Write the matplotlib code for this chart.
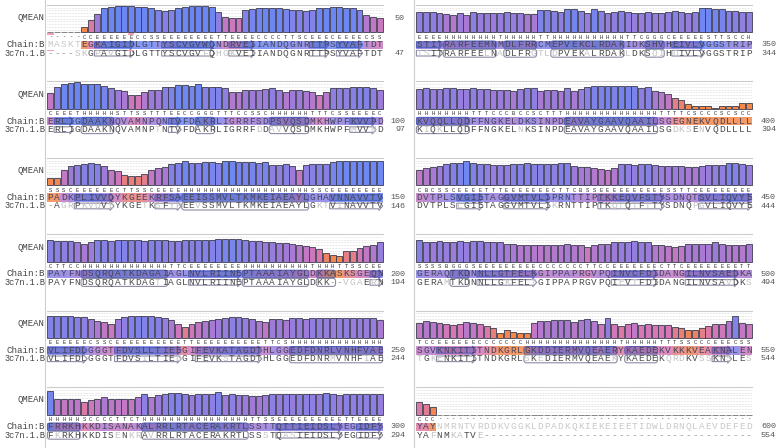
import matplotlib
matplotlib.use("Agg")
import numpy as np
import matplotlib.pyplot as plt
from matplotlib.patches import FancyBboxPatch, Polygon, Rectangle
from matplotlib.colors import LinearSegmentedColormap

# ---------------- data ----------------
target_end = [50, 100, 150, 200, 250, 300, 350, 400, 450, 500, 550, 600]
template_end = [47, 97, 146, 194, 244, 294, 344, 394, 444, 494, 544, 554]

target_seq = [
    "MASKTEGKAIGIDLGTTYSCVGVWQNDRVEIIANDQGNRTTPSYVAFTDT",
    "ERLIGDAAKNQVAMNPQNTVFDAKRLIGRRFSDPSVQSDMKHWPFKVVPD",
    "PADKPLIVVQYKGEEKRFSAEEISSMVLTKMKEIAEAYLGHAVNNAVVTV",
    "PAYFNDSQRQATKDAGAIAGLNVLRIINEPTAAAIAYGLDKKASKSGEQN",
    "VLIFDLGGGTFDVSLLTIEEGIFEVKATAGDTHLGGEDFDNRLVNHFVAE",
    "FRRKHKKDISANAKALRRLRTACERAKRTLSSTTQTTIEIDSLYEGIDFY",
    "STITRARFEEMNMDLFRRCMEPVEKCLRDAKIDKSHVHEIVLVGGSTRIP",
    "KVQQLLQDFFNGKELDKSINPDEAVAYGAAVQAAILSGEGNEKVQDLLLL",
    "DVTPLSVGIETAGGVMTVLIPRNTTIPTKKEQVFSTYSDNQTSVLIQVYE",
    "GERAQTKDNNLLGTFELKGIPPAPRGVPQINVCFDIDANGILNVSAEDKA",
    "SGVKNKITITNDKGRLGKDDIERMVQEAERYKAEDEKVKKKVEAKNALEN",
    "YAYNMRNTVRDDKVGGKLDPADKQKIEKEIEETIDWLDRNQLAEVDEFED",
]

template_seq = [
    "----SKGPAVGIDLGTTYSCVGVFQHGKVEIIANDQGNRTTPSYVAFTDT",
    "ERLIGDAAKNQVAMNPTNTVFDAKRLIGRRFDDAVVQSDMKHWPFMVVND",
    "-AGRPKVQVEYKGETKSFYPEEVSSMVLTKMKEIAEAYLGKTVINAVVTV",
    "PAYFNDSQRQATKDAGTIAGLNVLRIINEPTAAAIAYGLDKK--VGAERN",
    "VLIFDLGGGTFDVSILTIEDGIFEVKSTAGDTHLGGEDFDNRMVNHFIAE",
    "FKRKHKKDISENKRAVRRLRTACERAKRTLSSSTQASIEIDSLYEGIDFY",
    "TSITRARFEELNADLFRGTLDPVEKALRDAKLDKSQIHDIVLVGGSTRIP",
    "KIQKLLQDFFNGKELNKSINPDEAVAYGAAVQAAILSGDKSENVQDLLLL",
    "DVTPLSLGIETAGGVMTVLIKRNTTIPTKQTQTFTTYSDNQPGVLIQVYE",
    "GERAMTKDNNLLGKFELTGIPPAPRGVPQIEVTFDIDANGILNVSAVDKS",
    "TGKENKITITNDKGRLSKEDIERMVQEAEKYKAEDEKQRDKVSSKNSLES",
    "YAFNMKATVE----------------------------------------",
]

ss = [
    "-----CCEEEEEECCSSEEEEEEEETTEEEECCCCTTSCEEECEEEECSS",
    "CEEETHHHHHSTTSSTTTEECCGGGTTTCCSSCHHHHHHTTTCSSEEEEC",
    "SSSCEEEEEECTTSSCEEEE" + "H" * 19 + "SSC" + "E" * 8,
    "CTTCC" + "H" * 13 + "TTC" + "E" * 8 + "H" * 10 + "THHH" + "TTSSCEE",
    "EEEEEECSSCEEEEEEEEEETTEEEEEEEEEETTCS" + "H" * 14,
    "HHHHHSCCCCTTCT" + "H" * 16 + "TTSS" + "E" * 10 + "TTEEEE",
    "EEEE" + "H" * 8 + "T" + "H" * 5 + "TT" + "H" * 11 + "TTCGGGC" + "E" * 5 + "STTSCCH",
    "H" * 8 + "TTTCCCBCCSCTTT" + "H" * 14 + "TTTTCSCCCSCSCC",
    "CBCSSCEEEETTT" + "E" * 7 + "CTTCBSS" + "E" * 10 + "SSTTC" + "E" * 8,
    "SSSSBGGGS" + "E" * 9 + "C" * 7 + "TTCC" + "E" * 7 + "CTTC" + "E" * 8 + "TT",
    "TCC" + "E" * 6 + "C" * 7 + "H" * 14 + "T" + "H" * 5 + "TTTSSCCCEEECSS",
    "CCC" + "-" * 47,
]

q1 = [None] * 5 + [0.19, 0.44, 0.69, 0.88, 0.91, 0.96, 0.96, 0.95, 0.94, 0.91,
                   0.88, 0.81, 0.79, 0.81, 0.88, 0.92, 0.95, 0.96, 0.95, 0.91,
                   0.75, 0.56, 0.53, 0.53, 0.81, 0.84, 0.88, 0.90, 0.90, 0.88,
                   0.84, 0.81, 0.81, 0.78, 0.81, 0.88, 0.90, 0.91, 0.91, 0.90,
                   0.88, 0.81, 0.62, 0.56, 0.53]
q2 = [0.56, 0.81, 0.90, 0.94, 0.96, 0.90, 0.90, 0.90, 0.85, 0.75,
      0.69, 0.65, 0.52, 0.50, 0.62, 0.69, 0.69, 0.78, 0.81, 0.88,
      0.88, 0.84, 0.90, 0.78, 0.81, 0.81, 0.75, 0.62, 0.62, 0.69,
      0.69, 0.69, 0.71, 0.75, 0.69, 0.62, 0.69, 0.69, 0.65, 0.62,
      0.50, 0.60, 0.75, 0.75, 0.75, 0.78, 0.80, 0.80, 0.75, 0.69]
q3 = [0.25, 0.27, 0.56, 0.69, 0.75, 0.78, 0.80, 0.78, 0.69, 0.56,
      0.52, 0.37, 0.35, 0.35, 0.40, 0.56, 0.62, 0.65, 0.78, 0.81,
      0.88, 0.81, 0.81, 0.84, 0.84, 0.81, 0.88, 0.88, 0.85, 0.84,
      0.84, 0.81, 0.84, 0.75, 0.75, 0.78, 0.69, 0.56, 0.75, 0.78,
      0.78, 0.78, 0.84, 0.88, 0.88, 0.88, 0.88, 0.88, 0.88, 0.88]
q4 = [0.78, 0.76, 0.76, 0.74, 0.70, 0.66, 0.70, 0.80, 0.78, 0.76,
      0.80, 0.80, 0.78, 0.78, 0.76, 0.80, 0.78, 0.78, 0.76, 0.76,
      0.78, 0.78, 0.78, 0.80, 0.80, 0.81, 0.84, 0.84, 0.81, 0.78,
      0.76, 0.74, 0.70, 0.72, 0.69, 0.68, 0.65, 0.60, 0.56, 0.52,
      0.45, 0.30, 0.25, 0.20, 0.38, 0.38, 0.50, 0.56, 0.62, 0.72]
q5 = [0.80, 0.80, 0.80, 0.80, 0.78, 0.76, 0.70, 0.64, 0.57, 0.52,
      0.70, 0.76, 0.80, 0.82, 0.80, 0.80, 0.78, 0.72, 0.65, 0.52,
      0.40, 0.50, 0.57, 0.64, 0.66, 0.70, 0.72, 0.76, 0.76, 0.72,
      0.70, 0.64, 0.57, 0.70, 0.70, 0.66, 0.72, 0.72, 0.70, 0.74,
      0.74, 0.72, 0.72, 0.74, 0.74, 0.72, 0.72, 0.72, 0.72, 0.65]
q6 = [0.85, 0.58, 0.56, 0.58, 0.58, 0.45, 0.52, 0.58, 0.64, 0.58,
      0.58, 0.56, 0.56, 0.64, 0.76, 0.64, 0.70, 0.76, 0.80, 0.80,
      0.76, 0.70, 0.76, 0.76, 0.76, 0.82, 0.70, 0.76, 0.70, 0.70,
      0.68, 0.68, 0.70, 0.76, 0.73, 0.76, 0.73, 0.76, 0.76, 0.76,
      0.73, 0.80, 0.76, 0.70, 0.76, 0.76, 0.76, 0.76, 0.76, 0.73]
q7 = [0.75, 0.75, 0.75, 0.72, 0.66, 0.62, 0.70, 0.65, 0.75, 0.72,
      0.72, 0.70, 0.72, 0.75, 0.72, 0.72, 0.66, 0.66, 0.82, 0.82,
      0.78, 0.75, 0.85, 0.85, 0.78, 0.72, 0.85, 0.78, 0.72, 0.75,
      0.78, 0.75, 0.72, 0.72, 0.75, 0.72, 0.72, 0.75, 0.78, 0.75,
      0.72, 0.75, 0.88, 0.88, 0.85, 0.85, 0.78, 0.78, 0.75, 0.75]
q8 = [0.72, 0.75, 0.72, 0.72, 0.75, 0.75, 0.72, 0.72, 0.75, 0.72,
      0.72, 0.70, 0.70, 0.70, 0.66, 0.72, 0.75, 0.75, 0.66, 0.69,
      0.69, 0.66, 0.75, 0.66, 0.72, 0.78, 0.82, 0.82, 0.85, 0.82,
      0.85, 0.85, 0.82, 0.75, 0.78, 0.66, 0.60, 0.55, 0.38, 0.32,
      0.16, 0.12, 0.12, 0.10, 0.04, 0.12, 0.12, 0.12, 0.20, 0.22]
q9 = [0.56, 0.62, 0.66, 0.70, 0.76, 0.80, 0.82, 0.88, 0.82, 0.78,
      0.76, 0.72, 0.74, 0.74, 0.78, 0.78, 0.80, 0.78, 0.78, 0.78,
      0.76, 0.80, 0.80, 0.70, 0.66, 0.66, 0.62, 0.60, 0.56, 0.62,
      0.76, 0.76, 0.74, 0.76, 0.78, 0.72, 0.70, 0.70, 0.70, 0.70,
      0.66, 0.66, 0.70, 0.72, 0.74, 0.74, 0.82, 0.80, 0.76, 0.72]
q10 = [0.78, 0.72, 0.70, 0.74, 0.72, 0.70, 0.74, 0.72, 0.74, 0.74,
       0.72, 0.72, 0.70, 0.66, 0.66, 0.62, 0.62, 0.62, 0.60, 0.60,
       0.62, 0.62, 0.66, 0.62, 0.60, 0.52, 0.62, 0.66, 0.66, 0.70,
       0.72, 0.72, 0.74, 0.72, 0.70, 0.62, 0.60, 0.58, 0.55, 0.58,
       0.66, 0.66, 0.66, 0.66, 0.70, 0.66, 0.62, 0.62, 0.62, 0.66]
q11 = [0.56, 0.62, 0.60, 0.56, 0.50, 0.48, 0.50, 0.60, 0.56, 0.50,
       0.44, 0.35, 0.19, 0.28, 0.22, 0.19, 0.19, 0.56, 0.62, 0.62,
       0.65, 0.65, 0.65, 0.60, 0.65, 0.69, 0.62, 0.52, 0.74, 0.50,
       0.44, 0.52, 0.56, 0.48, 0.50, 0.48, 0.48, 0.48, 0.40, 0.35,
       0.28, 0.31, 0.38, 0.44, 0.50, 0.52, 0.62, 0.80, 0.56, 0.52]
q12 = [0.44, 0.40, 0.27] + [None] * 47
qmean = [q1, q2, q3, q4, q5, q6, q7, q8, q9, q10, q11, q12]

site_residues = [1, 13]

# ---------------- layout ----------------
W, H = 778, 448
COL_X = [47, 416]
BLOCK_W = 336.0
ROW_H = 76.4
N = 50
RW = BLOCK_W / N
BAR_TOP, BAR_BOT = 5.0, 32.5
SS_Y, SEQ_Y, TPL_Y = 37.2, 44.8, 53.2
BAND0, BAND1 = 40.6, 49.0
MONO = "Liberation Mono"

cmap = LinearSegmentedColormap.from_list(
    "qmean", [(0.0, "#f4874a"), (0.25, "#f4874a"), (0.48, "#d877b6"),
              (0.68, "#a27ad8"), (0.88, "#6e87f2"), (1.0, "#6a86f4")])

fig = plt.figure(figsize=(W / 100, H / 100), dpi=100)
fig.patch.set_facecolor("white")

# bar axes per block
for b in range(12):
    col, row = divmod(b, 6)
    x0 = COL_X[col]
    top = row * ROW_H
    bax = fig.add_axes([x0 / W, 1 - (top + BAR_BOT) / H, BLOCK_W / W,
                        (BAR_BOT - BAR_TOP) / H])
    bax.set_xlim(-0.5, N - 0.5)
    bax.set_ylim(0, 1)
    bax.axis("off")
    for g in np.arange(0.1, 0.95, 0.1):
        bax.axhline(g, color="#d2d2d2", lw=0.5, ls=(0, (1, 1.2)), zorder=0)
    bax.axhline(1.0, color="#cccccc", lw=0.8, zorder=0, clip_on=False)
    vals = qmean[b]
    idx = np.arange(N)
    hv = [v if v is not None else 0 for v in vals]
    cols = [cmap(v) if v is not None else (1, 1, 1, 0) for v in vals]
    edges = ["#3c3c50" if v is not None else "#707070" for v in vals]
    bax.bar(idx, hv, width=0.88, color=cols, edgecolor=edges, linewidth=0.6,
            zorder=2, clip_on=False)

# overlay axes in pixel coordinates
ov = fig.add_axes([0, 0, 1, 1])
ov.set_xlim(0, W)
ov.set_ylim(H, 0)
ov.axis("off")

ov.plot([45, 45], [0, H], color="#cfcfcf", lw=0.8)
ov.plot([414, 414], [0, H], color="#cfcfcf", lw=0.8)


def runs(s, chars):
    out = []
    i = 0
    while i < len(s):
        if s[i] in chars:
            j = i
            while j + 1 < len(s) and s[j + 1] in chars:
                j += 1
            if j - i >= 1:
                out.append((i, j))
            i = j + 1
        else:
            i += 1
    return out


def arrow(xs, xe, yc, fc, ec, lw, z):
    hl = min(4.0, (xe - xs) * 0.5)
    pts = [(xs, yc - 2.8), (xe - hl, yc - 2.8), (xe - hl, yc - 4.4), (xe, yc),
           (xe - hl, yc + 4.4), (xe - hl, yc + 2.8), (xs, yc + 2.8)]
    ov.add_patch(Polygon(pts, closed=True, fc=fc, ec=ec, lw=lw, zorder=z))


for b in range(12):
    col, row = divmod(b, 6)
    x0 = COL_X[col]
    top = row * ROW_H
    vals = qmean[b]
    tseq, pseq, sss = target_seq[b], template_seq[b], ss[b]

    # labels
    if col == 0:
        ov.text(44, top + 18, "QMEAN", ha="right", va="center", fontsize=6.4,
                family=MONO, color="#444444")
        ov.text(45.5, top + SEQ_Y, "Chain:B", ha="right", va="center",
                fontsize=6.6, family=MONO, color="#444444")
        ov.text(45.5, top + TPL_Y, "3c7n.1.B", ha="right", va="center",
                fontsize=6.2, family=MONO, color="#444444")
        nx, nha = 405, "right"
    else:
        nx, nha = 761, "left"
    ny = top + (18 if b == 0 else SEQ_Y)
    ov.text(nx, ny, str(target_end[b]), ha=nha, va="center", fontsize=6.0,
            family=MONO, color="#555555")
    ov.text(nx, top + TPL_Y, str(template_end[b]), ha=nha, va="center",
            fontsize=6.0, family=MONO, color="#555555")

    # colored background band
    for i, v in enumerate(vals):
        if v is None:
            continue
        ov.add_patch(Rectangle((x0 + i * RW, top + BAND0), RW, BAND1 - BAND0,
                               fc=cmap(v), ec="none", alpha=0.85, zorder=1))

    # secondary structure shapes
    for (i, j) in runs(sss, "HG"):
        xs, xe = x0 + i * RW + 0.4, x0 + (j + 1) * RW - 0.4
        ov.add_patch(FancyBboxPatch((xs, top + BAND0 + 0.3), xe - xs, 7.8,
                                    boxstyle="round,pad=0,rounding_size=2.5",
                                    fc=(0.15, 0.2, 0.55, 0.28),
                                    ec=(0.2, 0.3, 0.7, 0.7), lw=0.7, zorder=2))
        ov.add_patch(FancyBboxPatch((xs, top + TPL_Y - 4.0), xe - xs, 8.0,
                                    boxstyle="round,pad=0,rounding_size=2.5",
                                    fc="none", ec="#8c8ca4", lw=0.8, zorder=2))
    for (i, j) in runs(sss, "E"):
        xs, xe = x0 + i * RW + 0.4, x0 + (j + 1) * RW - 0.2
        arrow(xs, xe, top + SEQ_Y, (0.15, 0.2, 0.55, 0.28),
              (0.2, 0.3, 0.7, 0.7), 0.7, 2)
        arrow(xs, xe, top + TPL_Y, "none", "#8c8ca4", 0.8, 2)

    # letters
    for i in range(N):
        xc = x0 + (i + 0.5) * RW
        ov.text(xc, top + SS_Y, sss[i], ha="center", va="center", fontsize=4.0,
                family=MONO, color="#333333", zorder=3)
        tcol = "#45455a" if vals[i] is not None else "#c8c8c8"
        ov.text(xc, top + SEQ_Y, tseq[i], ha="center", va="center",
                fontsize=6.8, family=MONO, color=tcol, zorder=3)
        p = pseq[i]
        if p == "-":
            pcol = "#9a9a9a"
        elif p == tseq[i]:
            pcol = "#4a4a4a"
        else:
            pcol = "#c2c2c2"
        ov.text(xc, top + TPL_Y, p, ha="center", va="center", fontsize=6.8,
                family=MONO, color=pcol, zorder=3)

# site markers (first block)
for r in site_residues:
    i = r - 1
    xs = COL_X[0] + i * RW
    ov.add_patch(Rectangle((xs, BAR_BOT + 0.8), RW, 1.6, fc="#f0a0b0",
                           ec="none", zorder=3))
    ov.add_patch(Rectangle((xs, BAND1 + 0.6), RW, 1.8, fc="#f0a0b0",
                           ec="none", zorder=3))

fig.savefig("out.png", dpi=100, facecolor="white")
